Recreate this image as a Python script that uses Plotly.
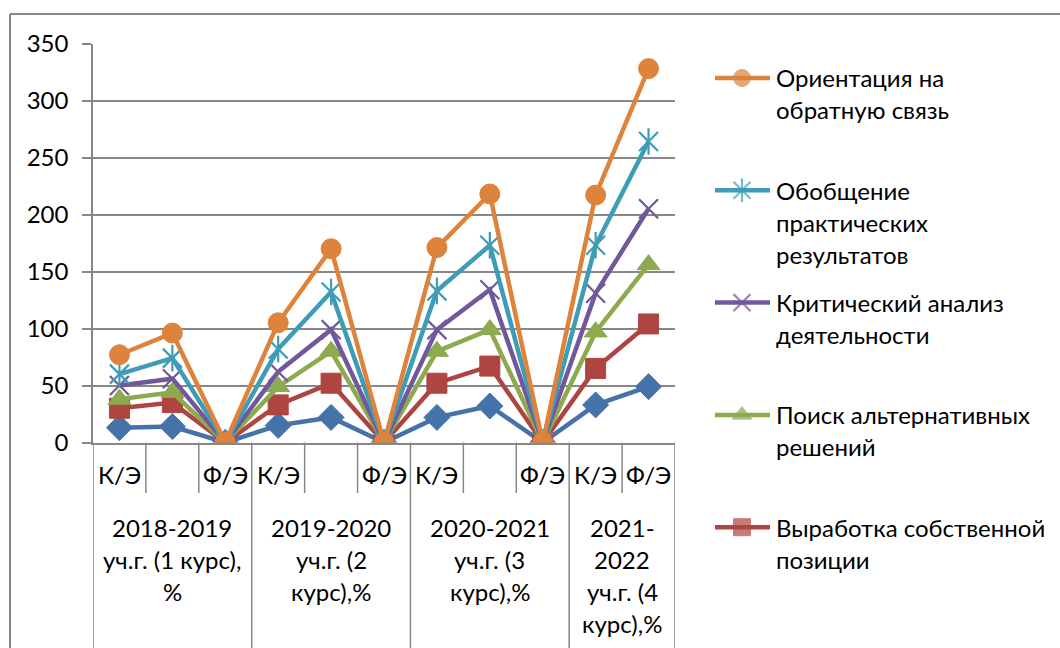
import plotly.graph_objects as go
import numpy as np

W, H = 1060, 648

# ---------------- data ----------------
sub_labels = ["К/Э", "", "Ф/Э", "К/Э", "", "Ф/Э", "К/Э", "", "Ф/Э", "К/Э", "Ф/Э"]
group_labels = [
    ["2018-2019", "уч.г. (1 курс),", "%"],
    ["2019-2020", "уч.г. (2", "курс),%"],
    ["2020-2021", "уч.г. (3", "курс),%"],
    ["2021-", "2022", "уч.г. (4", "курс),%"],
]
group_sizes = [3, 3, 3, 2]

# individual (non-cumulative) values; the chart is a stacked line chart
s_row1 = [13, 14, 0, 15, 22, 0, 22, 32, 0, 33, 49]
s_vyrabotka = [17, 21, 0, 18, 30, 0, 30, 35, 0, 32, 55]
s_poisk = [8, 9, 0, 16, 28, 0, 28, 32, 0, 32, 52]
s_krit = [12, 12, 0, 13, 19, 0, 19, 35, 0, 34, 49]
s_obobsh = [10, 18, 0, 20, 33, 0, 34, 39, 0, 42, 59]
s_orient = [17, 22, 0, 23, 38, 0, 38, 45, 0, 44, 64]

y_ticks = [0, 50, 100, 150, 200, 250, 300, 350]

# stacking order (bottom -> top); "star" = Excel star marker (x + vertical bar)
series = [
    dict(name="Ряд 1", vals=s_row1, color="#4572A9", symbol="diamond", legend=None),
    dict(name="Выработка собственной позиции", vals=s_vyrabotka, color="#AE4541", symbol="square",
         legend=["Выработка собственной", "позиции"]),
    dict(name="Поиск альтернативных решений", vals=s_poisk, color="#8DAA4F", symbol="triangle-up",
         legend=["Поиск альтернативных", "решений"]),
    dict(name="Критический анализ деятельности", vals=s_krit, color="#71589A", symbol="x-thin-open",
         legend=["Критический анализ", "деятельности"]),
    dict(name="Обобщение практических результатов", vals=s_obobsh, color="#3E9CB6", symbol="star",
         legend=["Обобщение", "практических", "результатов"]),
    dict(name="Ориентация на обратную связь", vals=s_orient, color="#DE833C", symbol="circle",
         legend=["Ориентация на", "обратную связь"]),
]

FONT = "Lato, 'Open Sans', sans-serif"
FS = 24
GRID = "#878787"

# pixel layout helpers (margins are zero, so paper == pixels)
def px(x):
    return x / W

def py(y):
    return 1 - y / H

PLOT_L, PLOT_R, PLOT_T, PLOT_B = 93, 675, 43.5, 442.5


def add_series(fig, xs, ys, s, size, axes, name, line_width=4.5):
    """Line + markers; Excel 'star' marker is drawn as x-thin plus a vertical bar."""
    xa, ya = axes
    sym = s["symbol"]
    thin = sym in ("x-thin-open", "star")
    main_sym = "x-thin-open" if sym == "star" else sym
    fig.add_trace(go.Scatter(
        x=xs, y=ys, name=name, mode="lines+markers",
        line=dict(color=s["color"], width=line_width),
        marker=dict(symbol=main_sym, size=size, color=s["color"],
                    line=dict(color=s["color"], width=2.2 if thin else 1)),
        showlegend=False, xaxis=xa, yaxis=ya,
    ))
    if sym == "star":
        fig.add_trace(go.Scatter(
            x=xs, y=ys, name=name, mode="markers",
            marker=dict(symbol="line-ns-open", size=size, color=s["color"],
                        line=dict(color=s["color"], width=2.2)),
            showlegend=False, hoverinfo="skip", xaxis=xa, yaxis=ya,
        ))


fig = go.Figure()

x = list(range(len(sub_labels)))
cum = np.zeros(len(sub_labels))
for s in series:
    cum = cum + np.array(s["vals"], dtype=float)
    size = 19 if s["symbol"] in ("x-thin-open", "star") else 20
    add_series(fig, x, cum.tolist(), s, size, ("x", "y"), s["name"])

# ---------------- custom legend (pixel overlay axes) ----------------
annotations = []
shapes = []
leg_y0, leg_dy = 78, 112.3
leg_items = [s for s in series if s["legend"]][::-1]
for i, s in enumerate(leg_items):
    yc = leg_y0 + i * leg_dy
    add_series(fig, [715, 742, 770], [yc, yc, yc], s, [0, 17, 0], ("x2", "y2"), s["name"])
    for j, line in enumerate(s["legend"]):
        annotations.append(dict(
            text=line, x=px(774), y=py(yc + j * 32), xref="paper", yref="paper",
            xanchor="left", yanchor="middle", showarrow=False,
            font=dict(family=FONT, size=FS, color="#000000"),
        ))

# ---------------- category axis labels ----------------
for i, lab in enumerate(sub_labels):
    if lab:
        annotations.append(dict(
            text=lab, x=i, y=py(474), xref="x", yref="paper",
            xanchor="center", yanchor="middle", showarrow=False,
            font=dict(family=FONT, size=FS, color="#000000"),
        ))

start = 0
boundaries = [0]
for g, size in enumerate(group_sizes):
    center = start + (size - 1) / 2
    for j, line in enumerate(group_labels[g]):
        annotations.append(dict(
            text=line, x=center, y=py(527 + j * 32), xref="x", yref="paper",
            xanchor="center", yanchor="middle", showarrow=False,
            font=dict(family=FONT, size=FS, color="#000000"),
        ))
    start += size
    boundaries.append(start)

for k in range(len(sub_labels) + 1):
    bottom = 650 if k in boundaries else 493
    shapes.append(dict(type="line", xref="x", yref="paper",
                       x0=k - 0.5, x1=k - 0.5, y0=py(PLOT_B), y1=py(bottom),
                       line=dict(color=GRID, width=1.5)))

# outer chart border (top and left visible)
shapes.append(dict(type="line", xref="paper", yref="paper", x0=px(10), x1=px(1062),
                   y0=py(14), y1=py(14), line=dict(color=GRID, width=2)))
shapes.append(dict(type="line", xref="paper", yref="paper", x0=px(10), x1=px(10),
                   y0=py(14), y1=py(650), line=dict(color=GRID, width=2)))

fig.update_layout(
    width=W, height=H,
    margin=dict(l=0, r=0, t=0, b=0, autoexpand=False),
    paper_bgcolor="white", plot_bgcolor="rgba(0,0,0,0)",
    font=dict(family=FONT, size=FS, color="#000000"),
    showlegend=False,
    xaxis=dict(domain=[px(PLOT_L), px(PLOT_R)], range=[-0.5, len(sub_labels) - 0.5],
               showgrid=False, zeroline=False, showticklabels=False, automargin=False,
               showline=True, linecolor=GRID, linewidth=1.5, fixedrange=True),
    yaxis=dict(domain=[py(PLOT_B), py(PLOT_T)], range=[0, 350], tickvals=y_ticks,
               showgrid=True, gridcolor=GRID, gridwidth=1.5, zeroline=False,
               showline=True, linecolor=GRID, linewidth=1.5, automargin=False,
               ticks="outside", ticklen=9, tickcolor=GRID, tickwidth=1.5,
               ticklabelstandoff=9,
               tickfont=dict(family=FONT, size=FS, color="#000000"), fixedrange=True),
    xaxis2=dict(domain=[0, 1], range=[0, W], visible=False, anchor="y2",
                fixedrange=True, automargin=False),
    yaxis2=dict(domain=[0, 1], range=[H, 0], visible=False, anchor="x2",
                fixedrange=True, automargin=False),
    annotations=annotations,
    shapes=shapes,
)

fig.write_html("out.html", config={"displayModeBar": False},
               post_script="document.body.style.margin='0';document.body.style.overflow='hidden';")
